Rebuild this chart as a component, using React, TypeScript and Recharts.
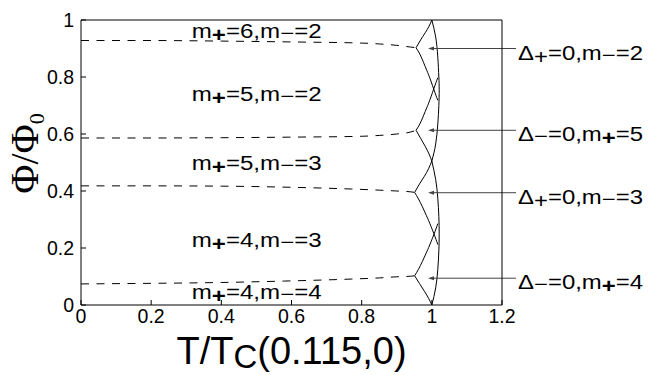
import React from 'react';
import { ComposedChart, Line, XAxis, YAxis, ReferenceLine, ReferenceDot } from 'recharts';

const xTicks = [0, 0.2, 0.4, 0.6, 0.8, 1, 1.2];
const yTicks = [0, 0.2, 0.4, 0.6, 0.8, 1];

type P = { x: number; y: number };
const pts = (arr: number[][]): P[] => arr.map(([x, y]) => ({ x, y }));

// dashed phase boundaries (T < cusp)
const dashedTop = pts([[0, 0.928], [0.2, 0.928], [0.4, 0.926], [0.6, 0.923], [0.8, 0.919], [0.85, 0.916], [0.9, 0.911], [0.94, 0.905], [0.955, 0.9026]]);
const dashedUpperMid = pts([[0, 0.586], [0.2, 0.586], [0.4, 0.587], [0.6, 0.589], [0.8, 0.592], [0.85, 0.595], [0.9, 0.6], [0.94, 0.607], [0.955, 0.613]]);
const dashedLowerMid = pts([[0, 0.418], [0.2, 0.418], [0.4, 0.417], [0.6, 0.413], [0.77, 0.407], [0.85, 0.403], [0.9, 0.4], [0.94, 0.397], [0.952, 0.395]]);
const dashedBottom = pts([[0, 0.074], [0.2, 0.076], [0.4, 0.079], [0.58, 0.084], [0.77, 0.091], [0.85, 0.095], [0.9, 0.099], [0.94, 0.101], [0.952, 0.1026]]);

// outer arcs near T = Tc
const arcUpper = pts([[1.0, 1.0], [1.011, 0.94], [1.017, 0.87], [1.02, 0.8], [1.021, 0.755], [1.02, 0.7], [1.017, 0.635], [1.011, 0.565], [1.0, 0.505]]);
const arcLower = pts([[1.0, 0.505], [1.011, 0.44], [1.017, 0.375], [1.02, 0.31], [1.021, 0.25], [1.02, 0.19], [1.017, 0.125], [1.011, 0.06], [1.0, 0.0]]);

// cusp branches
const cusp1Up = pts([[0.955, 0.9026], [0.968, 0.93], [0.981, 0.955], [0.992, 0.978], [1.0, 1.0]]);
const cusp1Down = pts([[0.955, 0.9026], [0.966, 0.88], [0.976, 0.852], [0.986, 0.822], [0.995, 0.794], [1.009, 0.745], [1.017, 0.718]]);
const cusp2Up = pts([[0.955, 0.613], [0.966, 0.6356], [0.976, 0.6636], [0.986, 0.6936], [0.995, 0.7216], [1.009, 0.7706], [1.017, 0.7976]]);
const cusp2Down = pts([[0.955, 0.613], [0.968, 0.585], [0.981, 0.557], [0.992, 0.53], [1.0, 0.505]]);
const cusp3Up = pts([[0.951, 0.395], [0.965, 0.425], [0.979, 0.452], [0.991, 0.479], [1.0, 0.505]]);
const cusp3Down = pts([[0.951, 0.395], [0.962, 0.372], [0.973, 0.345], [0.984, 0.315], [0.994, 0.287], [1.009, 0.24], [1.017, 0.212]]);
const cusp4Up = pts([[0.951, 0.1026], [0.962, 0.1256], [0.973, 0.1526], [0.984, 0.1826], [0.994, 0.2106], [1.009, 0.2576], [1.017, 0.2856]]);
const cusp4Down = pts([[0.951, 0.1026], [0.965, 0.075], [0.979, 0.048], [0.991, 0.023], [1.0, 0.0]]);

const dashedSeries = [dashedTop, dashedUpperMid, dashedLowerMid, dashedBottom];
const solidSeries = [arcUpper, arcLower, cusp1Up, cusp1Down, cusp2Up, cusp2Down, cusp3Up, cusp3Down, cusp4Up, cusp4Down];

// region labels: parts with odd indices as subscripts
const regionLabelParts = [
  ['m', '+', '=6,m', '−', '=2'],
  ['m', '+', '=5,m', '−', '=2'],
  ['m', '+', '=5,m', '−', '=3'],
  ['m', '+', '=4,m', '−', '=3'],
  ['m', '+', '=4,m', '−', '=4'],
];
const regionLabelX = 0.3156;
const regionLabelY = [0.9377, 0.7156, 0.473, 0.202, 0.02];

// annotation arrows
const annotationParts = [
  ['Δ', '+', '=0,m', '−', '=2'],
  ['Δ', '−', '=0,m', '+', '=5'],
  ['Δ', '+', '=0,m', '−', '=3'],
  ['Δ', '−', '=0,m', '+', '=4'],
];
const annotationY = [0.9, 0.613, 0.394, 0.094];
const arrowTipX = 0.989;
const arrowTailX = 1.24;

const SANS = '"Liberation Sans", Arial, Helvetica, sans-serif';
const SERIF = '"Liberation Serif", "Times New Roman", serif';

function SubText({ x, y, parts, fontSize, width }: { x: number; y: number; parts: string[]; fontSize: number; width: number }) {
  const children: React.ReactNode[] = [];
  let shift = 0;
  parts.forEach((p, i) => {
    if (i % 2 === 1) {
      const s = p === '+' ? 4 : 2;
      const bold = p === '+' && parts[i - 1].endsWith('m');
      children.push(
        <tspan key={i} dy={s - shift} fontWeight={bold ? 'bold' : 'normal'}>{p}</tspan>
      );
      shift = s;
    } else {
      children.push(<tspan key={i} dy={-shift}>{p}</tspan>);
      shift = 0;
    }
  });
  return (
    <text x={x} y={y} fontSize={fontSize} fontFamily={SANS} fill="#000" textLength={width} lengthAdjust="spacingAndGlyphs">
      {children}
    </text>
  );
}

const makeArrowShape = (parts: string[]) => (props: any) => {
  const { x1, y1, x2 } = props;
  const tip = Math.min(x1, x2);
  const tail = Math.max(x1, x2);
  const y = y1;
  return (
    <g>
      <line x1={tail} y1={y} x2={tip + 4} y2={y} stroke="#444" strokeWidth={1} />
      <path d={`M${tip},${y} L${tip + 6},${y - 2} L${tip + 6},${y + 2} Z`} fill="#444" />
      <SubText x={tail + 2} y={y + 11} parts={parts} fontSize={20} width={125} />
    </g>
  );
};

const makeRegionShape = (parts: string[]) => (props: any) => {
  const { cx, cy } = props;
  return <SubText x={cx} y={cy} parts={parts} fontSize={20} width={130} />;
};

const XLabel = (props: any) => {
  const vb = props.viewBox || { x: 81, y: 305, width: 421, height: 70 };
  const cx = vb.x + vb.width / 2;
  const by = vb.y + 59;
  return (
    <text x={cx} y={by} textAnchor="middle" fontSize={38} fontFamily={SANS} fill="#000">
      T/T<tspan fontSize={33} dy={4}>C</tspan><tspan dy={-4}>(0.115,0)</tspan>
    </text>
  );
};

const YLabel = (props: any) => {
  const vb = props.viewBox || { x: 0, y: 20, width: 81, height: 285 };
  const cx = 38;
  const cy = vb.y + vb.height / 2 - 9;
  return (
    <text x={cx} y={cy} transform={`rotate(-90 ${cx} ${cy})`} textAnchor="middle" fontSize={40} fontFamily={SERIF} fill="#000">
      Φ/Φ<tspan fontSize={22} dy={6}>0</tspan>
    </text>
  );
};

const tickStyle = { fontSize: 19.5, fill: '#000', fontFamily: SANS };

export default function App() {
  return (
    <div style={{ position: 'absolute', left: 0, top: 0, width: 648, height: 375, background: '#fff' }}>
      <ComposedChart width={648} height={375} margin={{ top: 19, right: 145, bottom: 0, left: 0 }}>
        <XAxis
          xAxisId={0}
          type="number"
          dataKey="x"
          domain={[0, 1.2]}
          ticks={xTicks}
          interval={0}
          height={70}
          tickSize={-5}
          tickMargin={9}
          tick={tickStyle}
          axisLine={{ stroke: '#000' }}
          tickLine={{ stroke: '#000' }}
          label={{ content: XLabel }}
        />
        <XAxis
          xAxisId="top"
          orientation="top"
          type="number"
          dataKey="x"
          domain={[0, 1.2]}
          ticks={xTicks}
          interval={0}
          height={1}
          tickSize={-5}
          tickFormatter={() => ''}
          axisLine={{ stroke: '#000' }}
          tickLine={{ stroke: '#000' }}
        />
        <YAxis
          yAxisId={0}
          type="number"
          domain={[0, 1]}
          ticks={yTicks}
          interval={0}
          width={81}
          tickSize={-5}
          tickMargin={12}
          tick={tickStyle}
          axisLine={{ stroke: '#000' }}
          tickLine={{ stroke: '#000' }}
          label={{ content: YLabel }}
        />
        <YAxis
          yAxisId="right"
          orientation="right"
          type="number"
          domain={[0, 1]}
          ticks={yTicks}
          interval={0}
          width={1}
          tickSize={-5}
          tickFormatter={() => ''}
          axisLine={{ stroke: '#000' }}
          tickLine={{ stroke: '#000' }}
        />
        {dashedSeries.map((d, i) => (
          <Line
            key={`d${i}`}
            data={d}
            dataKey="y"
            type="monotone"
            stroke="#000"
            strokeWidth={1}
            strokeDasharray="8 7.5"
            dot={false}
            activeDot={false}
            isAnimationActive={false}
          />
        ))}
        {solidSeries.map((d, i) => (
          <Line
            key={`s${i}`}
            data={d}
            dataKey="y"
            type="natural"
            stroke="#000"
            strokeWidth={1}
            dot={false}
            activeDot={false}
            isAnimationActive={false}
          />
        ))}
        {annotationParts.map((parts, i) => (
          <ReferenceLine
            key={`a${i}`}
            segment={[{ x: arrowTailX, y: annotationY[i] }, { x: arrowTipX, y: annotationY[i] }]}
            ifOverflow="visible"
            shape={makeArrowShape(parts)}
          />
        ))}
        {regionLabelParts.map((parts, i) => (
          <ReferenceDot
            key={`r${i}`}
            x={regionLabelX}
            y={regionLabelY[i]}
            r={0}
            ifOverflow="visible"
            shape={makeRegionShape(parts)}
          />
        ))}
      </ComposedChart>
    </div>
  );
}
